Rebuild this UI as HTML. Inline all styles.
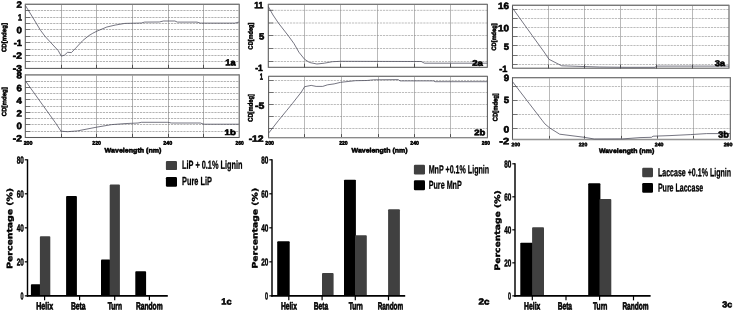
<!DOCTYPE html>
<html lang="en">
<head>
<meta charset="utf-8">
<title>CD spectra and secondary structure of LiP, MnP and Laccase with lignin</title>
<style>
html,body{margin:0;padding:0;background:#fff;}
body{width:734px;height:311px;overflow:hidden;font-family:"Liberation Sans",sans-serif;}
svg{display:block;}
text{text-rendering:geometricPrecision;}
</style>
</head>
<body>
<svg width="734" height="311" viewBox="0 0 734 311">
<rect x="0" y="0" width="734" height="311" fill="#fff"/>
<line x1="25.30" y1="10.50" x2="239.20" y2="10.50" stroke="#949494" stroke-width="0.7" stroke-dasharray="2.2 0.9"/>
<line x1="25.30" y1="10.50" x2="30.30" y2="10.50" stroke="#666" stroke-width="0.9"/>
<line x1="25.30" y1="17.50" x2="239.20" y2="17.50" stroke="#949494" stroke-width="0.7" stroke-dasharray="2.2 0.9"/>
<line x1="25.30" y1="17.50" x2="30.30" y2="17.50" stroke="#666" stroke-width="0.9"/>
<line x1="25.30" y1="23.50" x2="239.20" y2="23.50" stroke="#949494" stroke-width="0.7" stroke-dasharray="2.2 0.9"/>
<line x1="25.30" y1="23.50" x2="30.30" y2="23.50" stroke="#666" stroke-width="0.9"/>
<line x1="25.30" y1="29.50" x2="239.20" y2="29.50" stroke="#949494" stroke-width="0.7" stroke-dasharray="2.2 0.9"/>
<line x1="25.30" y1="29.50" x2="30.30" y2="29.50" stroke="#666" stroke-width="0.9"/>
<line x1="25.30" y1="36.50" x2="239.20" y2="36.50" stroke="#949494" stroke-width="0.7" stroke-dasharray="2.2 0.9"/>
<line x1="25.30" y1="36.50" x2="30.30" y2="36.50" stroke="#666" stroke-width="0.9"/>
<line x1="25.30" y1="42.50" x2="239.20" y2="42.50" stroke="#949494" stroke-width="0.7" stroke-dasharray="2.2 0.9"/>
<line x1="25.30" y1="42.50" x2="30.30" y2="42.50" stroke="#666" stroke-width="0.9"/>
<line x1="25.30" y1="49.50" x2="239.20" y2="49.50" stroke="#949494" stroke-width="0.7" stroke-dasharray="2.2 0.9"/>
<line x1="25.30" y1="49.50" x2="30.30" y2="49.50" stroke="#666" stroke-width="0.9"/>
<line x1="25.30" y1="55.50" x2="239.20" y2="55.50" stroke="#949494" stroke-width="0.7" stroke-dasharray="2.2 0.9"/>
<line x1="25.30" y1="55.50" x2="30.30" y2="55.50" stroke="#666" stroke-width="0.9"/>
<line x1="25.30" y1="61.50" x2="239.20" y2="61.50" stroke="#949494" stroke-width="0.7" stroke-dasharray="2.2 0.9"/>
<line x1="25.30" y1="61.50" x2="30.30" y2="61.50" stroke="#666" stroke-width="0.9"/>
<line x1="61.50" y1="4.30" x2="61.50" y2="68.40" stroke="#7c7c7c" stroke-width="0.6"/>
<line x1="61.50" y1="64.80" x2="61.50" y2="68.80" stroke="#444" stroke-width="0.9"/>
<line x1="96.50" y1="4.30" x2="96.50" y2="68.40" stroke="#7c7c7c" stroke-width="0.6"/>
<line x1="96.50" y1="64.80" x2="96.50" y2="68.80" stroke="#444" stroke-width="0.9"/>
<line x1="132.50" y1="4.30" x2="132.50" y2="68.40" stroke="#7c7c7c" stroke-width="0.6"/>
<line x1="132.50" y1="64.80" x2="132.50" y2="68.80" stroke="#444" stroke-width="0.9"/>
<line x1="168.50" y1="4.30" x2="168.50" y2="68.40" stroke="#7c7c7c" stroke-width="0.6"/>
<line x1="168.50" y1="64.80" x2="168.50" y2="68.80" stroke="#444" stroke-width="0.9"/>
<line x1="203.50" y1="4.30" x2="203.50" y2="68.40" stroke="#7c7c7c" stroke-width="0.6"/>
<line x1="203.50" y1="64.80" x2="203.50" y2="68.80" stroke="#444" stroke-width="0.9"/>
<rect x="25.30" y="4.30" width="213.90" height="64.10" fill="none" stroke="#585858" stroke-width="1.05"/>
<line x1="25.90" y1="4.30" x2="238.60" y2="4.30" stroke="#fff" stroke-width="1.3"/>
<line x1="25.30" y1="4.30" x2="239.20" y2="4.30" stroke="#787878" stroke-width="1.15"/>
<polyline points="25.5,5.7 33.1,18.0 40.5,30.3 45.0,36.3 50.7,42.5 58.2,50.6 61.3,56.1 64.5,55.1 67.6,52.3 71.4,52.6 75.1,48.8 82.6,40.7 88.9,35.6 92.7,33.3 97.0,31.1 106.9,27.0 115.1,25.1 124.9,23.4 141.3,23.0 144.6,22.1 159.3,22.0 163.4,21.0 174.9,21.0 177.4,22.1 197.0,22.1 200.3,23.1 234.8,23.1 238.9,22.1" fill="none" stroke="#484858" stroke-width="0.75" stroke-linejoin="round"/>
<line x1="25.30" y1="81.50" x2="239.20" y2="81.50" stroke="#949494" stroke-width="0.7" stroke-dasharray="2.2 0.9"/>
<line x1="25.30" y1="81.50" x2="30.30" y2="81.50" stroke="#666" stroke-width="0.9"/>
<line x1="25.30" y1="87.50" x2="239.20" y2="87.50" stroke="#949494" stroke-width="0.7" stroke-dasharray="2.2 0.9"/>
<line x1="25.30" y1="87.50" x2="30.30" y2="87.50" stroke="#666" stroke-width="0.9"/>
<line x1="25.30" y1="93.50" x2="239.20" y2="93.50" stroke="#949494" stroke-width="0.7" stroke-dasharray="2.2 0.9"/>
<line x1="25.30" y1="93.50" x2="30.30" y2="93.50" stroke="#666" stroke-width="0.9"/>
<line x1="25.30" y1="99.50" x2="239.20" y2="99.50" stroke="#949494" stroke-width="0.7" stroke-dasharray="2.2 0.9"/>
<line x1="25.30" y1="99.50" x2="30.30" y2="99.50" stroke="#666" stroke-width="0.9"/>
<line x1="25.30" y1="106.50" x2="239.20" y2="106.50" stroke="#949494" stroke-width="0.7" stroke-dasharray="2.2 0.9"/>
<line x1="25.30" y1="106.50" x2="30.30" y2="106.50" stroke="#666" stroke-width="0.9"/>
<line x1="25.30" y1="112.50" x2="239.20" y2="112.50" stroke="#949494" stroke-width="0.7" stroke-dasharray="2.2 0.9"/>
<line x1="25.30" y1="112.50" x2="30.30" y2="112.50" stroke="#666" stroke-width="0.9"/>
<line x1="25.30" y1="118.50" x2="239.20" y2="118.50" stroke="#949494" stroke-width="0.7" stroke-dasharray="2.2 0.9"/>
<line x1="25.30" y1="118.50" x2="30.30" y2="118.50" stroke="#666" stroke-width="0.9"/>
<line x1="25.30" y1="124.50" x2="239.20" y2="124.50" stroke="#949494" stroke-width="0.7" stroke-dasharray="2.2 0.9"/>
<line x1="25.30" y1="124.50" x2="30.30" y2="124.50" stroke="#666" stroke-width="0.9"/>
<line x1="25.30" y1="131.50" x2="239.20" y2="131.50" stroke="#949494" stroke-width="0.7" stroke-dasharray="2.2 0.9"/>
<line x1="25.30" y1="131.50" x2="30.30" y2="131.50" stroke="#666" stroke-width="0.9"/>
<line x1="61.50" y1="74.80" x2="61.50" y2="137.50" stroke="#7c7c7c" stroke-width="0.6"/>
<line x1="61.50" y1="133.90" x2="61.50" y2="137.90" stroke="#444" stroke-width="0.9"/>
<line x1="96.50" y1="74.80" x2="96.50" y2="137.50" stroke="#7c7c7c" stroke-width="0.6"/>
<line x1="96.50" y1="133.90" x2="96.50" y2="137.90" stroke="#444" stroke-width="0.9"/>
<line x1="132.50" y1="74.80" x2="132.50" y2="137.50" stroke="#7c7c7c" stroke-width="0.6"/>
<line x1="132.50" y1="133.90" x2="132.50" y2="137.90" stroke="#444" stroke-width="0.9"/>
<line x1="168.50" y1="74.80" x2="168.50" y2="137.50" stroke="#7c7c7c" stroke-width="0.6"/>
<line x1="168.50" y1="133.90" x2="168.50" y2="137.90" stroke="#444" stroke-width="0.9"/>
<line x1="203.50" y1="74.80" x2="203.50" y2="137.50" stroke="#7c7c7c" stroke-width="0.6"/>
<line x1="203.50" y1="133.90" x2="203.50" y2="137.90" stroke="#444" stroke-width="0.9"/>
<rect x="25.30" y="74.80" width="213.90" height="62.70" fill="none" stroke="#585858" stroke-width="1.05"/>
<line x1="25.90" y1="74.80" x2="238.60" y2="74.80" stroke="#fff" stroke-width="1.3"/>
<line x1="25.30" y1="74.80" x2="239.20" y2="74.80" stroke="#787878" stroke-width="1.15"/>
<polyline points="25.5,81.0 42.1,104.2 55.2,122.4 61.0,131.2 67.5,131.7 77.4,130.9 97.0,127.1 111.8,124.6 125.0,123.6 138.0,123.0 141.4,122.3 167.6,122.3 171.7,123.0 200.4,123.0 203.7,124.2 239.0,124.2" fill="none" stroke="#484858" stroke-width="0.75" stroke-linejoin="round"/>
<line x1="268.30" y1="10.35" x2="487.30" y2="10.35" stroke="#a0a0a0" stroke-width="0.7" stroke-dasharray="2.2 0.9"/>
<line x1="268.30" y1="10.35" x2="273.30" y2="10.35" stroke="#666" stroke-width="0.9"/>
<line x1="268.30" y1="23.00" x2="487.30" y2="23.00" stroke="#a0a0a0" stroke-width="0.7" stroke-dasharray="2.2 0.9"/>
<line x1="268.30" y1="23.00" x2="273.30" y2="23.00" stroke="#666" stroke-width="0.9"/>
<line x1="268.30" y1="35.50" x2="487.30" y2="35.50" stroke="#a0a0a0" stroke-width="0.7" stroke-dasharray="2.2 0.9"/>
<line x1="268.30" y1="35.50" x2="273.30" y2="35.50" stroke="#666" stroke-width="0.9"/>
<line x1="268.30" y1="48.50" x2="487.30" y2="48.50" stroke="#a0a0a0" stroke-width="0.7" stroke-dasharray="2.2 0.9"/>
<line x1="268.30" y1="48.50" x2="273.30" y2="48.50" stroke="#666" stroke-width="0.9"/>
<line x1="268.30" y1="61.50" x2="487.30" y2="61.50" stroke="#a0a0a0" stroke-width="0.7" stroke-dasharray="2.2 0.9"/>
<line x1="268.30" y1="61.50" x2="273.30" y2="61.50" stroke="#666" stroke-width="0.9"/>
<line x1="304.50" y1="4.40" x2="304.50" y2="67.30" stroke="#8a8a8a" stroke-width="0.6"/>
<line x1="304.50" y1="63.70" x2="304.50" y2="67.70" stroke="#444" stroke-width="0.9"/>
<line x1="340.50" y1="4.40" x2="340.50" y2="67.30" stroke="#8a8a8a" stroke-width="0.6"/>
<line x1="340.50" y1="63.70" x2="340.50" y2="67.70" stroke="#444" stroke-width="0.9"/>
<line x1="377.50" y1="4.40" x2="377.50" y2="67.30" stroke="#8a8a8a" stroke-width="0.6"/>
<line x1="377.50" y1="63.70" x2="377.50" y2="67.70" stroke="#444" stroke-width="0.9"/>
<line x1="414.50" y1="4.40" x2="414.50" y2="67.30" stroke="#8a8a8a" stroke-width="0.6"/>
<line x1="414.50" y1="63.70" x2="414.50" y2="67.70" stroke="#444" stroke-width="0.9"/>
<line x1="450.50" y1="4.40" x2="450.50" y2="67.30" stroke="#8a8a8a" stroke-width="0.6"/>
<line x1="450.50" y1="63.70" x2="450.50" y2="67.70" stroke="#444" stroke-width="0.9"/>
<rect x="268.30" y="4.40" width="219.00" height="62.90" fill="none" stroke="#585858" stroke-width="1.05"/>
<line x1="268.90" y1="4.40" x2="486.70" y2="4.40" stroke="#fff" stroke-width="1.3"/>
<line x1="268.30" y1="4.40" x2="487.30" y2="4.40" stroke="#787878" stroke-width="1.15"/>
<polyline points="268.4,6.8 273.0,15.0 278.4,23.0 288.2,35.6 294.0,43.6 298.9,52.2 304.6,59.3 309.5,62.5 316.9,64.0 324.3,63.2 332.5,61.7 340.7,61.3 421.2,61.5 424.5,63.2 487.3,63.2" fill="none" stroke="#484858" stroke-width="0.75" stroke-linejoin="round"/>
<line x1="268.60" y1="80.50" x2="487.40" y2="80.50" stroke="#a0a0a0" stroke-width="0.7" stroke-dasharray="2.2 0.9"/>
<line x1="268.60" y1="80.50" x2="273.60" y2="80.50" stroke="#666" stroke-width="0.9"/>
<line x1="268.60" y1="92.50" x2="487.40" y2="92.50" stroke="#a0a0a0" stroke-width="0.7" stroke-dasharray="2.2 0.9"/>
<line x1="268.60" y1="92.50" x2="273.60" y2="92.50" stroke="#666" stroke-width="0.9"/>
<line x1="268.60" y1="104.50" x2="487.40" y2="104.50" stroke="#a0a0a0" stroke-width="0.7" stroke-dasharray="2.2 0.9"/>
<line x1="268.60" y1="104.50" x2="273.60" y2="104.50" stroke="#666" stroke-width="0.9"/>
<line x1="268.60" y1="116.50" x2="487.40" y2="116.50" stroke="#a0a0a0" stroke-width="0.7" stroke-dasharray="2.2 0.9"/>
<line x1="268.60" y1="116.50" x2="273.60" y2="116.50" stroke="#666" stroke-width="0.9"/>
<line x1="268.60" y1="128.50" x2="487.40" y2="128.50" stroke="#a0a0a0" stroke-width="0.7" stroke-dasharray="2.2 0.9"/>
<line x1="268.60" y1="128.50" x2="273.60" y2="128.50" stroke="#666" stroke-width="0.9"/>
<line x1="304.50" y1="76.40" x2="304.50" y2="137.70" stroke="#8a8a8a" stroke-width="0.6"/>
<line x1="304.50" y1="134.10" x2="304.50" y2="138.10" stroke="#444" stroke-width="0.9"/>
<line x1="341.50" y1="76.40" x2="341.50" y2="137.70" stroke="#8a8a8a" stroke-width="0.6"/>
<line x1="341.50" y1="134.10" x2="341.50" y2="138.10" stroke="#444" stroke-width="0.9"/>
<line x1="378.50" y1="76.40" x2="378.50" y2="137.70" stroke="#8a8a8a" stroke-width="0.6"/>
<line x1="378.50" y1="134.10" x2="378.50" y2="138.10" stroke="#444" stroke-width="0.9"/>
<line x1="414.50" y1="76.40" x2="414.50" y2="137.70" stroke="#8a8a8a" stroke-width="0.6"/>
<line x1="414.50" y1="134.10" x2="414.50" y2="138.10" stroke="#444" stroke-width="0.9"/>
<line x1="450.50" y1="76.40" x2="450.50" y2="137.70" stroke="#8a8a8a" stroke-width="0.6"/>
<line x1="450.50" y1="134.10" x2="450.50" y2="138.10" stroke="#444" stroke-width="0.9"/>
<rect x="268.60" y="76.40" width="218.80" height="61.30" fill="none" stroke="#585858" stroke-width="1.05"/>
<line x1="269.20" y1="76.40" x2="486.80" y2="76.40" stroke="#fff" stroke-width="1.3"/>
<line x1="268.60" y1="76.40" x2="487.40" y2="76.40" stroke="#787878" stroke-width="1.15"/>
<line x1="269.20" y1="137.70" x2="486.80" y2="137.70" stroke="#fff" stroke-width="1.4"/>
<line x1="268.60" y1="137.70" x2="487.40" y2="137.70" stroke="#8a8a8a" stroke-width="1.3"/>
<polyline points="268.8,132.9 278.4,120.6 286.6,110.6 292.3,103.6 301.3,92.1 304.6,86.7 311.2,85.4 316.1,86.4 322.7,86.4 327.6,84.8 334.1,83.9 340.7,82.3 355.4,80.7 366.9,80.5 373.5,79.8 398.2,79.6 400.0,80.9 433.5,80.9 435.0,81.7 487.3,81.7" fill="none" stroke="#484858" stroke-width="0.75" stroke-linejoin="round"/>
<line x1="512.50" y1="9.50" x2="729.00" y2="9.50" stroke="#a0a0a0" stroke-width="0.7" stroke-dasharray="2.2 0.9"/>
<line x1="512.50" y1="9.50" x2="517.50" y2="9.50" stroke="#666" stroke-width="0.9"/>
<line x1="512.50" y1="18.50" x2="729.00" y2="18.50" stroke="#a0a0a0" stroke-width="0.7" stroke-dasharray="2.2 0.9"/>
<line x1="512.50" y1="18.50" x2="517.50" y2="18.50" stroke="#666" stroke-width="0.9"/>
<line x1="512.50" y1="27.50" x2="729.00" y2="27.50" stroke="#a0a0a0" stroke-width="0.7" stroke-dasharray="2.2 0.9"/>
<line x1="512.50" y1="27.50" x2="517.50" y2="27.50" stroke="#666" stroke-width="0.9"/>
<line x1="512.50" y1="36.50" x2="729.00" y2="36.50" stroke="#a0a0a0" stroke-width="0.7" stroke-dasharray="2.2 0.9"/>
<line x1="512.50" y1="36.50" x2="517.50" y2="36.50" stroke="#666" stroke-width="0.9"/>
<line x1="512.50" y1="45.50" x2="729.00" y2="45.50" stroke="#a0a0a0" stroke-width="0.7" stroke-dasharray="2.2 0.9"/>
<line x1="512.50" y1="45.50" x2="517.50" y2="45.50" stroke="#666" stroke-width="0.9"/>
<line x1="512.50" y1="55.50" x2="729.00" y2="55.50" stroke="#a0a0a0" stroke-width="0.7" stroke-dasharray="2.2 0.9"/>
<line x1="512.50" y1="55.50" x2="517.50" y2="55.50" stroke="#666" stroke-width="0.9"/>
<line x1="512.50" y1="64.50" x2="729.00" y2="64.50" stroke="#a0a0a0" stroke-width="0.7" stroke-dasharray="2.2 0.9"/>
<line x1="512.50" y1="64.50" x2="517.50" y2="64.50" stroke="#666" stroke-width="0.9"/>
<line x1="548.50" y1="5.30" x2="548.50" y2="68.20" stroke="#8a8a8a" stroke-width="0.6"/>
<line x1="548.50" y1="64.60" x2="548.50" y2="68.60" stroke="#444" stroke-width="0.9"/>
<line x1="584.50" y1="5.30" x2="584.50" y2="68.20" stroke="#8a8a8a" stroke-width="0.6"/>
<line x1="584.50" y1="64.60" x2="584.50" y2="68.60" stroke="#444" stroke-width="0.9"/>
<line x1="620.50" y1="5.30" x2="620.50" y2="68.20" stroke="#8a8a8a" stroke-width="0.6"/>
<line x1="620.50" y1="64.60" x2="620.50" y2="68.60" stroke="#444" stroke-width="0.9"/>
<line x1="656.50" y1="5.30" x2="656.50" y2="68.20" stroke="#8a8a8a" stroke-width="0.6"/>
<line x1="656.50" y1="64.60" x2="656.50" y2="68.60" stroke="#444" stroke-width="0.9"/>
<line x1="692.50" y1="5.30" x2="692.50" y2="68.20" stroke="#8a8a8a" stroke-width="0.6"/>
<line x1="692.50" y1="64.60" x2="692.50" y2="68.60" stroke="#444" stroke-width="0.9"/>
<rect x="512.50" y="5.30" width="216.50" height="62.90" fill="none" stroke="#585858" stroke-width="1.05"/>
<line x1="513.10" y1="5.30" x2="728.40" y2="5.30" stroke="#fff" stroke-width="1.3"/>
<line x1="512.50" y1="5.30" x2="729.00" y2="5.30" stroke="#787878" stroke-width="1.15"/>
<polyline points="512.6,8.2 532.2,35.5 544.1,52.0 549.0,59.3 561.7,65.8 583.0,66.5 599.4,67.0 626.0,67.3 655.0,67.3 656.5,66.1 729.0,66.1" fill="none" stroke="#484858" stroke-width="0.75" stroke-linejoin="round"/>
<line x1="512.50" y1="86.50" x2="730.30" y2="86.50" stroke="#a0a0a0" stroke-width="0.7" stroke-dasharray="2.2 0.9"/>
<line x1="512.50" y1="86.50" x2="517.50" y2="86.50" stroke="#666" stroke-width="0.9"/>
<line x1="512.50" y1="100.50" x2="730.30" y2="100.50" stroke="#a0a0a0" stroke-width="0.7" stroke-dasharray="2.2 0.9"/>
<line x1="512.50" y1="100.50" x2="517.50" y2="100.50" stroke="#666" stroke-width="0.9"/>
<line x1="512.50" y1="114.50" x2="730.30" y2="114.50" stroke="#a0a0a0" stroke-width="0.7" stroke-dasharray="2.2 0.9"/>
<line x1="512.50" y1="114.50" x2="517.50" y2="114.50" stroke="#666" stroke-width="0.9"/>
<line x1="512.50" y1="128.50" x2="730.30" y2="128.50" stroke="#a0a0a0" stroke-width="0.7" stroke-dasharray="2.2 0.9"/>
<line x1="512.50" y1="128.50" x2="517.50" y2="128.50" stroke="#666" stroke-width="0.9"/>
<line x1="549.50" y1="77.60" x2="549.50" y2="139.50" stroke="#8a8a8a" stroke-width="0.6"/>
<line x1="549.50" y1="135.90" x2="549.50" y2="139.90" stroke="#444" stroke-width="0.9"/>
<line x1="584.50" y1="77.60" x2="584.50" y2="139.50" stroke="#8a8a8a" stroke-width="0.6"/>
<line x1="584.50" y1="135.90" x2="584.50" y2="139.90" stroke="#444" stroke-width="0.9"/>
<line x1="621.50" y1="77.60" x2="621.50" y2="139.50" stroke="#8a8a8a" stroke-width="0.6"/>
<line x1="621.50" y1="135.90" x2="621.50" y2="139.90" stroke="#444" stroke-width="0.9"/>
<line x1="657.50" y1="77.60" x2="657.50" y2="139.50" stroke="#8a8a8a" stroke-width="0.6"/>
<line x1="657.50" y1="135.90" x2="657.50" y2="139.90" stroke="#444" stroke-width="0.9"/>
<line x1="693.50" y1="77.60" x2="693.50" y2="139.50" stroke="#8a8a8a" stroke-width="0.6"/>
<line x1="693.50" y1="135.90" x2="693.50" y2="139.90" stroke="#444" stroke-width="0.9"/>
<rect x="512.50" y="77.60" width="217.80" height="61.90" fill="none" stroke="#585858" stroke-width="1.05"/>
<line x1="513.10" y1="77.60" x2="729.70" y2="77.60" stroke="#fff" stroke-width="1.3"/>
<line x1="512.50" y1="77.60" x2="730.30" y2="77.60" stroke="#787878" stroke-width="1.15"/>
<line x1="513.10" y1="139.50" x2="729.70" y2="139.50" stroke="#fff" stroke-width="1.4"/>
<line x1="512.50" y1="139.50" x2="730.30" y2="139.50" stroke="#949494" stroke-width="1.3"/>
<polyline points="512.6,81.8 529.3,103.6 542.5,120.8 544.9,123.9 549.8,128.0 559.7,134.2 584.3,137.3 594.2,139.0 622.8,138.9 640.0,137.6 651.5,137.3 653.0,136.2 670.0,135.6 690.3,134.6 706.6,133.6 730.0,133.6" fill="none" stroke="#484858" stroke-width="0.75" stroke-linejoin="round"/>
<text transform="translate(16.52 7.75) rotate(0.06) scale(1.0530 1)" font-family="'Liberation Sans', sans-serif" font-weight="bold" font-size="9.17" fill="#000" stroke="#000" stroke-width="0.6" stroke-linejoin="round">2</text>
<text transform="translate(18.03 20.50) rotate(0.06) scale(0.7722 1)" font-family="'Liberation Sans', sans-serif" font-weight="bold" font-size="9.17" fill="#000" stroke="#000" stroke-width="0.6" stroke-linejoin="round">1</text>
<text transform="translate(16.52 33.25) rotate(0.06) scale(1.0530 1)" font-family="'Liberation Sans', sans-serif" font-weight="bold" font-size="9.17" fill="#000" stroke="#000" stroke-width="0.6" stroke-linejoin="round">0</text>
<text transform="translate(13.70 46.00) rotate(0.06) scale(1.0056 1)" font-family="'Liberation Sans', sans-serif" font-weight="bold" font-size="9.17" fill="#000" stroke="#000" stroke-width="0.6" stroke-linejoin="round">-1</text>
<text transform="translate(12.83 58.75) rotate(0.06) scale(1.1084 1)" font-family="'Liberation Sans', sans-serif" font-weight="bold" font-size="9.17" fill="#000" stroke="#000" stroke-width="0.6" stroke-linejoin="round">-2</text>
<text transform="translate(12.83 71.50) rotate(0.06) scale(1.1084 1)" font-family="'Liberation Sans', sans-serif" font-weight="bold" font-size="9.17" fill="#000" stroke="#000" stroke-width="0.6" stroke-linejoin="round">-3</text>
<text transform="translate(16.52 78.60) rotate(0.06) scale(1.0530 1)" font-family="'Liberation Sans', sans-serif" font-weight="bold" font-size="9.17" fill="#000" stroke="#000" stroke-width="0.6" stroke-linejoin="round">8</text>
<text transform="translate(16.52 91.20) rotate(0.06) scale(1.0530 1)" font-family="'Liberation Sans', sans-serif" font-weight="bold" font-size="9.17" fill="#000" stroke="#000" stroke-width="0.6" stroke-linejoin="round">6</text>
<text transform="translate(16.52 103.80) rotate(0.06) scale(1.0530 1)" font-family="'Liberation Sans', sans-serif" font-weight="bold" font-size="9.17" fill="#000" stroke="#000" stroke-width="0.6" stroke-linejoin="round">4</text>
<text transform="translate(16.52 116.40) rotate(0.06) scale(1.0530 1)" font-family="'Liberation Sans', sans-serif" font-weight="bold" font-size="9.17" fill="#000" stroke="#000" stroke-width="0.6" stroke-linejoin="round">2</text>
<text transform="translate(16.52 129.00) rotate(0.06) scale(1.0530 1)" font-family="'Liberation Sans', sans-serif" font-weight="bold" font-size="9.17" fill="#000" stroke="#000" stroke-width="0.6" stroke-linejoin="round">0</text>
<text transform="translate(12.83 141.60) rotate(0.06) scale(1.1084 1)" font-family="'Liberation Sans', sans-serif" font-weight="bold" font-size="9.17" fill="#000" stroke="#000" stroke-width="0.6" stroke-linejoin="round">-2</text>
<text transform="translate(254.28 8.20) rotate(0.06) scale(0.9328 1)" font-family="'Liberation Sans', sans-serif" font-weight="bold" font-size="9.17" fill="#000" stroke="#000" stroke-width="0.6" stroke-linejoin="round">11</text>
<text transform="translate(258.91 39.60) rotate(0.06) scale(1.0355 1)" font-family="'Liberation Sans', sans-serif" font-weight="bold" font-size="9.17" fill="#000" stroke="#000" stroke-width="0.6" stroke-linejoin="round">5</text>
<text transform="translate(255.28 71.00) rotate(0.06) scale(0.9256 1)" font-family="'Liberation Sans', sans-serif" font-weight="bold" font-size="9.17" fill="#000" stroke="#000" stroke-width="0.6" stroke-linejoin="round">-1</text>
<text transform="translate(259.69 79.80) rotate(0.06) scale(0.6318 1)" font-family="'Liberation Sans', sans-serif" font-weight="bold" font-size="9.17" fill="#000" stroke="#000" stroke-width="0.6" stroke-linejoin="round">1</text>
<text transform="translate(255.04 108.70) rotate(0.06) scale(1.1427 1)" font-family="'Liberation Sans', sans-serif" font-weight="bold" font-size="9.17" fill="#000" stroke="#000" stroke-width="0.6" stroke-linejoin="round">-5</text>
<text transform="translate(248.64 141.80) rotate(0.06) scale(1.1336 1)" font-family="'Liberation Sans', sans-serif" font-weight="bold" font-size="9.17" fill="#000" stroke="#000" stroke-width="0.6" stroke-linejoin="round">-12</text>
<text transform="translate(498.02 8.95) rotate(0.06) scale(1.0745 1)" font-family="'Liberation Sans', sans-serif" font-weight="bold" font-size="9.17" fill="#000" stroke="#000" stroke-width="0.6" stroke-linejoin="round">16</text>
<text transform="translate(498.02 31.20) rotate(0.06) scale(1.0745 1)" font-family="'Liberation Sans', sans-serif" font-weight="bold" font-size="9.17" fill="#000" stroke="#000" stroke-width="0.6" stroke-linejoin="round">10</text>
<text transform="translate(503.71 49.70) rotate(0.06) scale(1.0355 1)" font-family="'Liberation Sans', sans-serif" font-weight="bold" font-size="9.17" fill="#000" stroke="#000" stroke-width="0.6" stroke-linejoin="round">5</text>
<text transform="translate(499.20 72.00) rotate(0.06) scale(0.9941 1)" font-family="'Liberation Sans', sans-serif" font-weight="bold" font-size="9.17" fill="#000" stroke="#000" stroke-width="0.6" stroke-linejoin="round">-1</text>
<text transform="translate(503.82 81.10) rotate(0.06) scale(1.0530 1)" font-family="'Liberation Sans', sans-serif" font-weight="bold" font-size="9.17" fill="#000" stroke="#000" stroke-width="0.6" stroke-linejoin="round">9</text>
<text transform="translate(503.82 102.90) rotate(0.06) scale(1.0530 1)" font-family="'Liberation Sans', sans-serif" font-weight="bold" font-size="9.17" fill="#000" stroke="#000" stroke-width="0.6" stroke-linejoin="round">5</text>
<text transform="translate(503.54 132.60) rotate(0.06) scale(1.1232 1)" font-family="'Liberation Sans', sans-serif" font-weight="bold" font-size="9.17" fill="#000" stroke="#000" stroke-width="0.6" stroke-linejoin="round">0</text>
<text transform="translate(499.36 144.20) rotate(0.06) scale(1.2113 1)" font-family="'Liberation Sans', sans-serif" font-weight="bold" font-size="9.17" fill="#000" stroke="#000" stroke-width="0.6" stroke-linejoin="round">-2</text>
<text transform="translate(6.25 52.30) rotate(-89.94) translate(0.24 0) scale(0.9426 1)" font-family="'Liberation Sans', sans-serif" font-weight="bold" font-size="6.45" fill="#000" stroke="#000" stroke-width="0.5" stroke-linejoin="round">CD[mdeg]</text>
<text transform="translate(6.15 116.40) rotate(-89.94) translate(0.24 0) scale(0.9604 1)" font-family="'Liberation Sans', sans-serif" font-weight="bold" font-size="6.30" fill="#000" stroke="#000" stroke-width="0.5" stroke-linejoin="round">CD[mdeg]</text>
<text transform="translate(252.65 49.60) rotate(-89.94) translate(0.21 0) scale(0.8474 1)" font-family="'Liberation Sans', sans-serif" font-weight="bold" font-size="6.59" fill="#000" stroke="#000" stroke-width="0.5" stroke-linejoin="round">CD[mdeg]</text>
<text transform="translate(252.85 122.00) rotate(-89.94) translate(0.21 0) scale(0.8456 1)" font-family="'Liberation Sans', sans-serif" font-weight="bold" font-size="6.88" fill="#000" stroke="#000" stroke-width="0.5" stroke-linejoin="round">CD[mdeg]</text>
<text transform="translate(496.05 50.80) rotate(-89.94) translate(0.23 0) scale(0.9048 1)" font-family="'Liberation Sans', sans-serif" font-weight="bold" font-size="6.30" fill="#000" stroke="#000" stroke-width="0.5" stroke-linejoin="round">CD[mdeg]</text>
<text transform="translate(497.45 121.40) rotate(-89.94) translate(0.22 0) scale(0.8694 1)" font-family="'Liberation Sans', sans-serif" font-weight="bold" font-size="6.73" fill="#000" stroke="#000" stroke-width="0.5" stroke-linejoin="round">CD[mdeg]</text>
<text transform="translate(23.65 144.65) rotate(0.06) scale(1.0062 1)" font-family="'Liberation Sans', sans-serif" font-weight="bold" font-size="5.30" fill="#000" stroke="#000" stroke-width="0.5" stroke-linejoin="round">200</text>
<text transform="translate(92.25 144.65) rotate(0.06) scale(0.9848 1)" font-family="'Liberation Sans', sans-serif" font-weight="bold" font-size="5.30" fill="#000" stroke="#000" stroke-width="0.5" stroke-linejoin="round">220</text>
<text transform="translate(163.25 144.65) rotate(0.06) scale(1.0169 1)" font-family="'Liberation Sans', sans-serif" font-weight="bold" font-size="5.30" fill="#000" stroke="#000" stroke-width="0.5" stroke-linejoin="round">240</text>
<text transform="translate(235.53 144.65) rotate(0.06) scale(0.9206 1)" font-family="'Liberation Sans', sans-serif" font-weight="bold" font-size="5.30" fill="#000" stroke="#000" stroke-width="0.5" stroke-linejoin="round">260</text>
<text transform="translate(265.25 144.75) rotate(0.06) scale(0.9848 1)" font-family="'Liberation Sans', sans-serif" font-weight="bold" font-size="5.30" fill="#000" stroke="#000" stroke-width="0.5" stroke-linejoin="round">200</text>
<text transform="translate(339.14 144.75) rotate(0.06) scale(0.9634 1)" font-family="'Liberation Sans', sans-serif" font-weight="bold" font-size="5.30" fill="#000" stroke="#000" stroke-width="0.5" stroke-linejoin="round">220</text>
<text transform="translate(410.25 144.75) rotate(0.06) scale(0.9848 1)" font-family="'Liberation Sans', sans-serif" font-weight="bold" font-size="5.30" fill="#000" stroke="#000" stroke-width="0.5" stroke-linejoin="round">240</text>
<text transform="translate(481.73 144.75) rotate(0.06) scale(0.9206 1)" font-family="'Liberation Sans', sans-serif" font-weight="bold" font-size="5.30" fill="#000" stroke="#000" stroke-width="0.5" stroke-linejoin="round">260</text>
<text transform="translate(511.55 146.35) rotate(0.06) scale(0.9887 1)" font-family="'Liberation Sans', sans-serif" font-weight="bold" font-size="5.16" fill="#000" stroke="#000" stroke-width="0.5" stroke-linejoin="round">200</text>
<text transform="translate(578.75 146.35) rotate(0.06) scale(0.9887 1)" font-family="'Liberation Sans', sans-serif" font-weight="bold" font-size="5.16" fill="#000" stroke="#000" stroke-width="0.5" stroke-linejoin="round">220</text>
<text transform="translate(654.75 146.35) rotate(0.06) scale(1.0107 1)" font-family="'Liberation Sans', sans-serif" font-weight="bold" font-size="5.16" fill="#000" stroke="#000" stroke-width="0.5" stroke-linejoin="round">240</text>
<text transform="translate(723.66 146.35) rotate(0.06) scale(1.0326 1)" font-family="'Liberation Sans', sans-serif" font-weight="bold" font-size="5.16" fill="#000" stroke="#000" stroke-width="0.5" stroke-linejoin="round">260</text>
<text transform="translate(104.60 152.42) rotate(0.06) scale(1.0731 1)" font-family="'Liberation Sans', sans-serif" font-weight="bold" font-size="6.61" fill="#000" stroke="#000" stroke-width="0.55" stroke-linejoin="round">Wavelength (nm)</text>
<text transform="translate(351.59 152.53) rotate(0.06) scale(1.0544 1)" font-family="'Liberation Sans', sans-serif" font-weight="bold" font-size="6.61" fill="#000" stroke="#000" stroke-width="0.55" stroke-linejoin="round">Wavelength (nm)</text>
<text transform="translate(598.99 153.03) rotate(0.06) scale(1.0414 1)" font-family="'Liberation Sans', sans-serif" font-weight="bold" font-size="6.61" fill="#000" stroke="#000" stroke-width="0.55" stroke-linejoin="round">Wavelength (nm)</text>
<text transform="translate(225.32 65.60) rotate(0.06) scale(1.0550 1)" font-family="'Liberation Sans', sans-serif" font-weight="bold" font-size="8.87" fill="#000" stroke="#000" stroke-width="0.6" stroke-linejoin="round">1a</text>
<text transform="translate(224.57 135.00) rotate(0.06) scale(1.2193 1)" font-family="'Liberation Sans', sans-serif" font-weight="bold" font-size="7.85" fill="#000" stroke="#000" stroke-width="0.6" stroke-linejoin="round">1b</text>
<text transform="translate(472.26 65.80) rotate(0.06) scale(1.1903 1)" font-family="'Liberation Sans', sans-serif" font-weight="bold" font-size="8.02" fill="#000" stroke="#000" stroke-width="0.6" stroke-linejoin="round">2a</text>
<text transform="translate(474.15 135.30) rotate(0.06) scale(1.1649 1)" font-family="'Liberation Sans', sans-serif" font-weight="bold" font-size="8.17" fill="#000" stroke="#000" stroke-width="0.6" stroke-linejoin="round">2b</text>
<text transform="translate(714.64 66.10) rotate(0.06) scale(1.1315 1)" font-family="'Liberation Sans', sans-serif" font-weight="bold" font-size="8.31" fill="#000" stroke="#000" stroke-width="0.6" stroke-linejoin="round">3a</text>
<text transform="translate(718.21 137.60) rotate(0.06) scale(1.0464 1)" font-family="'Liberation Sans', sans-serif" font-weight="bold" font-size="8.74" fill="#000" stroke="#000" stroke-width="0.6" stroke-linejoin="round">3b</text>
<text transform="translate(221.31 304.40) rotate(0.06) scale(1.0421 1)" font-family="'Liberation Sans', sans-serif" font-weight="bold" font-size="8.87" fill="#000" stroke="#000" stroke-width="0.6" stroke-linejoin="round">1c</text>
<text transform="translate(478.44 304.40) rotate(0.06) scale(1.1242 1)" font-family="'Liberation Sans', sans-serif" font-weight="bold" font-size="8.74" fill="#000" stroke="#000" stroke-width="0.6" stroke-linejoin="round">2c</text>
<text transform="translate(722.32 307.30) rotate(0.06) scale(1.0601 1)" font-family="'Liberation Sans', sans-serif" font-weight="bold" font-size="8.45" fill="#000" stroke="#000" stroke-width="0.6" stroke-linejoin="round">3c</text>
<path d="M30.90 295.85V285.10Q30.90 284.20 31.80 284.20H39.60Q40.50 284.20 40.50 285.10V295.85Z" fill="#000"/>
<path d="M39.90 295.85V237.10Q39.90 236.20 40.80 236.20H49.40Q50.30 236.20 50.30 237.10V295.85Z" fill="#404040"/>
<path d="M66.10 295.85V197.00Q66.10 196.10 67.00 196.10H76.00Q76.90 196.10 76.90 197.00V295.85Z" fill="#000"/>
<path d="M101.00 295.85V260.50Q101.00 259.60 101.90 259.60H109.30Q110.20 259.60 110.20 260.50V295.85Z" fill="#000"/>
<path d="M109.70 295.85V185.40Q109.70 184.50 110.60 184.50H119.00Q119.90 184.50 119.90 185.40V295.85Z" fill="#404040"/>
<path d="M135.30 295.85V272.10Q135.30 271.20 136.20 271.20H145.20Q146.10 271.20 146.10 272.10V295.85Z" fill="#000"/>
<line x1="27.50" y1="159.30" x2="27.50" y2="296.75" stroke="#000" stroke-width="1.45"/>
<line x1="26.80" y1="295.85" x2="167.80" y2="295.85" stroke="#000" stroke-width="1.8"/>
<line x1="24.80" y1="295.85" x2="27.50" y2="295.85" stroke="#000" stroke-width="1.2"/>
<text transform="translate(20.43 299.45) rotate(0.06) scale(0.5361 1)" font-family="'Liberation Sans', sans-serif" font-weight="bold" font-size="10.17" fill="#000" stroke="#000" stroke-width="0.5" stroke-linejoin="round">0</text>
<line x1="24.80" y1="261.84" x2="27.50" y2="261.84" stroke="#000" stroke-width="1.2"/>
<text transform="translate(16.76 265.44) rotate(0.06) scale(0.6265 1)" font-family="'Liberation Sans', sans-serif" font-weight="bold" font-size="10.17" fill="#000" stroke="#000" stroke-width="0.5" stroke-linejoin="round">20</text>
<line x1="24.80" y1="227.83" x2="27.50" y2="227.83" stroke="#000" stroke-width="1.2"/>
<text transform="translate(16.76 231.43) rotate(0.06) scale(0.6265 1)" font-family="'Liberation Sans', sans-serif" font-weight="bold" font-size="10.17" fill="#000" stroke="#000" stroke-width="0.5" stroke-linejoin="round">40</text>
<line x1="24.80" y1="193.81" x2="27.50" y2="193.81" stroke="#000" stroke-width="1.2"/>
<text transform="translate(16.76 197.41) rotate(0.06) scale(0.6265 1)" font-family="'Liberation Sans', sans-serif" font-weight="bold" font-size="10.17" fill="#000" stroke="#000" stroke-width="0.5" stroke-linejoin="round">60</text>
<line x1="24.80" y1="159.80" x2="27.50" y2="159.80" stroke="#000" stroke-width="1.2"/>
<text transform="translate(16.76 163.40) rotate(0.06) scale(0.6265 1)" font-family="'Liberation Sans', sans-serif" font-weight="bold" font-size="10.17" fill="#000" stroke="#000" stroke-width="0.5" stroke-linejoin="round">80</text>
<line x1="44.60" y1="295.85" x2="44.60" y2="300.35" stroke="#000" stroke-width="1.2"/>
<line x1="79.60" y1="295.85" x2="79.60" y2="300.35" stroke="#000" stroke-width="1.2"/>
<line x1="114.70" y1="295.85" x2="114.70" y2="300.35" stroke="#000" stroke-width="1.2"/>
<line x1="149.40" y1="295.85" x2="149.40" y2="300.35" stroke="#000" stroke-width="1.2"/>
<text transform="translate(36.22 309.48) rotate(0.06) scale(0.6827 1)" font-family="'Liberation Sans', sans-serif" font-weight="bold" font-size="10.39" fill="#000" stroke="#000" stroke-width="0.65" stroke-linejoin="round">Helix</text>
<text transform="translate(70.91 309.48) rotate(0.06) scale(0.6540 1)" font-family="'Liberation Sans', sans-serif" font-weight="bold" font-size="10.39" fill="#000" stroke="#000" stroke-width="0.65" stroke-linejoin="round">Beta</text>
<text transform="translate(107.71 309.48) rotate(0.06) scale(0.6402 1)" font-family="'Liberation Sans', sans-serif" font-weight="bold" font-size="10.39" fill="#000" stroke="#000" stroke-width="0.65" stroke-linejoin="round">Turn</text>
<text transform="translate(135.91 309.48) rotate(0.06) scale(0.6419 1)" font-family="'Liberation Sans', sans-serif" font-weight="bold" font-size="10.39" fill="#000" stroke="#000" stroke-width="0.65" stroke-linejoin="round">Random</text>
<text transform="translate(12.20 269.00) rotate(-89.94) translate(0.25 0) scale(1.2344 1)" font-family="'DejaVu Sans', sans-serif" font-weight="bold" font-size="7.54" fill="#000" stroke="#000" stroke-width="0.4" stroke-linejoin="round">Percentage (%)</text>
<rect x="165.90" y="160.90" width="11.10" height="9.20" rx="1.2" fill="#404040"/>
<rect x="165.90" y="177.00" width="11.10" height="9.70" rx="1.2" fill="#000"/>
<text transform="translate(182.09 168.75) rotate(0.06) scale(0.6310 1)" font-family="'Liberation Sans', sans-serif" font-weight="bold" font-size="11.63" fill="#000" stroke="#000" stroke-width="0.3" stroke-linejoin="round">LiP + 0.1% Lignin</text>
<text transform="translate(182.09 185.05) rotate(0.06) scale(0.6319 1)" font-family="'Liberation Sans', sans-serif" font-weight="bold" font-size="11.63" fill="#000" stroke="#000" stroke-width="0.3" stroke-linejoin="round">Pure LiP</text>
<path d="M277.20 295.85V242.20Q277.20 241.30 278.10 241.30H288.80Q289.70 241.30 289.70 242.20V295.85Z" fill="#000"/>
<path d="M322.00 295.85V273.90Q322.00 273.00 322.90 273.00H332.70Q333.60 273.00 333.60 273.90V295.85Z" fill="#404040"/>
<path d="M344.00 295.85V180.60Q344.00 179.70 344.90 179.70H355.00Q355.90 179.70 355.90 180.60V295.85Z" fill="#000"/>
<path d="M355.00 295.85V236.10Q355.00 235.20 355.90 235.20H365.90Q366.80 235.20 366.80 236.10V295.85Z" fill="#404040"/>
<path d="M388.10 295.85V210.20Q388.10 209.30 389.00 209.30H399.00Q399.90 209.30 399.90 210.20V295.85Z" fill="#404040"/>
<line x1="272.00" y1="159.30" x2="272.00" y2="296.75" stroke="#000" stroke-width="1.45"/>
<line x1="271.30" y1="295.85" x2="405.20" y2="295.85" stroke="#000" stroke-width="1.8"/>
<line x1="269.30" y1="295.85" x2="272.00" y2="295.85" stroke="#000" stroke-width="1.2"/>
<text transform="translate(264.93 299.45) rotate(0.06) scale(0.5361 1)" font-family="'Liberation Sans', sans-serif" font-weight="bold" font-size="10.17" fill="#000" stroke="#000" stroke-width="0.5" stroke-linejoin="round">0</text>
<line x1="269.30" y1="261.84" x2="272.00" y2="261.84" stroke="#000" stroke-width="1.2"/>
<text transform="translate(261.26 265.44) rotate(0.06) scale(0.6265 1)" font-family="'Liberation Sans', sans-serif" font-weight="bold" font-size="10.17" fill="#000" stroke="#000" stroke-width="0.5" stroke-linejoin="round">20</text>
<line x1="269.30" y1="227.83" x2="272.00" y2="227.83" stroke="#000" stroke-width="1.2"/>
<text transform="translate(261.26 231.43) rotate(0.06) scale(0.6265 1)" font-family="'Liberation Sans', sans-serif" font-weight="bold" font-size="10.17" fill="#000" stroke="#000" stroke-width="0.5" stroke-linejoin="round">40</text>
<line x1="269.30" y1="193.81" x2="272.00" y2="193.81" stroke="#000" stroke-width="1.2"/>
<text transform="translate(261.26 197.41) rotate(0.06) scale(0.6265 1)" font-family="'Liberation Sans', sans-serif" font-weight="bold" font-size="10.17" fill="#000" stroke="#000" stroke-width="0.5" stroke-linejoin="round">60</text>
<line x1="269.30" y1="159.80" x2="272.00" y2="159.80" stroke="#000" stroke-width="1.2"/>
<text transform="translate(261.26 163.40) rotate(0.06) scale(0.6265 1)" font-family="'Liberation Sans', sans-serif" font-weight="bold" font-size="10.17" fill="#000" stroke="#000" stroke-width="0.5" stroke-linejoin="round">80</text>
<line x1="288.80" y1="295.85" x2="288.80" y2="300.35" stroke="#000" stroke-width="1.2"/>
<line x1="322.10" y1="295.85" x2="322.10" y2="300.35" stroke="#000" stroke-width="1.2"/>
<line x1="355.30" y1="295.85" x2="355.30" y2="300.35" stroke="#000" stroke-width="1.2"/>
<line x1="388.50" y1="295.85" x2="388.50" y2="300.35" stroke="#000" stroke-width="1.2"/>
<text transform="translate(280.91 309.48) rotate(0.06) scale(0.6474 1)" font-family="'Liberation Sans', sans-serif" font-weight="bold" font-size="10.39" fill="#000" stroke="#000" stroke-width="0.65" stroke-linejoin="round">Helix</text>
<text transform="translate(313.71 309.48) rotate(0.06) scale(0.6410 1)" font-family="'Liberation Sans', sans-serif" font-weight="bold" font-size="10.39" fill="#000" stroke="#000" stroke-width="0.65" stroke-linejoin="round">Beta</text>
<text transform="translate(348.71 309.48) rotate(0.06) scale(0.6358 1)" font-family="'Liberation Sans', sans-serif" font-weight="bold" font-size="10.39" fill="#000" stroke="#000" stroke-width="0.65" stroke-linejoin="round">Turn</text>
<text transform="translate(377.70 309.48) rotate(0.06) scale(0.6135 1)" font-family="'Liberation Sans', sans-serif" font-weight="bold" font-size="10.39" fill="#000" stroke="#000" stroke-width="0.65" stroke-linejoin="round">Random</text>
<text transform="translate(257.50 268.70) rotate(-89.94) translate(0.25 0) scale(1.2299 1)" font-family="'DejaVu Sans', sans-serif" font-weight="bold" font-size="7.54" fill="#000" stroke="#000" stroke-width="0.4" stroke-linejoin="round">Percentage (%)</text>
<rect x="413.90" y="164.70" width="11.10" height="9.70" rx="1.2" fill="#404040"/>
<rect x="413.90" y="180.30" width="11.10" height="10.00" rx="1.2" fill="#000"/>
<text transform="translate(428.69 173.15) rotate(0.06) scale(0.6192 1)" font-family="'Liberation Sans', sans-serif" font-weight="bold" font-size="11.48" fill="#000" stroke="#000" stroke-width="0.3" stroke-linejoin="round">MnP +0.1% Lignin</text>
<text transform="translate(428.69 188.75) rotate(0.06) scale(0.6253 1)" font-family="'Liberation Sans', sans-serif" font-weight="bold" font-size="11.48" fill="#000" stroke="#000" stroke-width="0.3" stroke-linejoin="round">Pure MnP</text>
<path d="M520.30 295.85V243.60Q520.30 242.70 521.20 242.70H532.10Q533.00 242.70 533.00 243.60V295.85Z" fill="#000"/>
<path d="M532.10 295.85V228.20Q532.10 227.30 533.00 227.30H543.10Q544.00 227.30 544.00 228.20V295.85Z" fill="#404040"/>
<path d="M588.20 295.85V184.20Q588.20 183.30 589.10 183.30H599.50Q600.40 183.30 600.40 184.20V295.85Z" fill="#000"/>
<path d="M599.50 295.85V199.90Q599.50 199.00 600.40 199.00H610.40Q611.30 199.00 611.30 199.90V295.85Z" fill="#404040"/>
<line x1="515.00" y1="163.30" x2="515.00" y2="296.75" stroke="#000" stroke-width="1.45"/>
<line x1="514.30" y1="295.85" x2="650.60" y2="295.85" stroke="#000" stroke-width="1.8"/>
<line x1="512.30" y1="295.85" x2="515.00" y2="295.85" stroke="#000" stroke-width="1.2"/>
<text transform="translate(507.93 299.45) rotate(0.06) scale(0.5361 1)" font-family="'Liberation Sans', sans-serif" font-weight="bold" font-size="10.17" fill="#000" stroke="#000" stroke-width="0.5" stroke-linejoin="round">0</text>
<line x1="512.30" y1="262.84" x2="515.00" y2="262.84" stroke="#000" stroke-width="1.2"/>
<text transform="translate(504.26 266.44) rotate(0.06) scale(0.6265 1)" font-family="'Liberation Sans', sans-serif" font-weight="bold" font-size="10.17" fill="#000" stroke="#000" stroke-width="0.5" stroke-linejoin="round">20</text>
<line x1="512.30" y1="229.83" x2="515.00" y2="229.83" stroke="#000" stroke-width="1.2"/>
<text transform="translate(504.26 233.43) rotate(0.06) scale(0.6265 1)" font-family="'Liberation Sans', sans-serif" font-weight="bold" font-size="10.17" fill="#000" stroke="#000" stroke-width="0.5" stroke-linejoin="round">40</text>
<line x1="512.30" y1="196.81" x2="515.00" y2="196.81" stroke="#000" stroke-width="1.2"/>
<text transform="translate(504.26 200.41) rotate(0.06) scale(0.6265 1)" font-family="'Liberation Sans', sans-serif" font-weight="bold" font-size="10.17" fill="#000" stroke="#000" stroke-width="0.5" stroke-linejoin="round">60</text>
<line x1="512.30" y1="163.80" x2="515.00" y2="163.80" stroke="#000" stroke-width="1.2"/>
<text transform="translate(504.26 167.40) rotate(0.06) scale(0.6265 1)" font-family="'Liberation Sans', sans-serif" font-weight="bold" font-size="10.17" fill="#000" stroke="#000" stroke-width="0.5" stroke-linejoin="round">80</text>
<line x1="532.30" y1="295.85" x2="532.30" y2="300.35" stroke="#000" stroke-width="1.2"/>
<line x1="566.00" y1="295.85" x2="566.00" y2="300.35" stroke="#000" stroke-width="1.2"/>
<line x1="599.60" y1="295.85" x2="599.60" y2="300.35" stroke="#000" stroke-width="1.2"/>
<line x1="633.50" y1="295.85" x2="633.50" y2="300.35" stroke="#000" stroke-width="1.2"/>
<text transform="translate(524.11 309.48) rotate(0.06) scale(0.6552 1)" font-family="'Liberation Sans', sans-serif" font-weight="bold" font-size="10.39" fill="#000" stroke="#000" stroke-width="0.65" stroke-linejoin="round">Helix</text>
<text transform="translate(557.71 309.48) rotate(0.06) scale(0.6367 1)" font-family="'Liberation Sans', sans-serif" font-weight="bold" font-size="10.39" fill="#000" stroke="#000" stroke-width="0.65" stroke-linejoin="round">Beta</text>
<text transform="translate(593.01 309.48) rotate(0.06) scale(0.6445 1)" font-family="'Liberation Sans', sans-serif" font-weight="bold" font-size="10.39" fill="#000" stroke="#000" stroke-width="0.65" stroke-linejoin="round">Turn</text>
<text transform="translate(622.40 309.48) rotate(0.06) scale(0.6277 1)" font-family="'Liberation Sans', sans-serif" font-weight="bold" font-size="10.39" fill="#000" stroke="#000" stroke-width="0.65" stroke-linejoin="round">Random</text>
<text transform="translate(500.00 270.70) rotate(-89.94) translate(0.24 0) scale(1.2223 1)" font-family="'DejaVu Sans', sans-serif" font-weight="bold" font-size="7.54" fill="#000" stroke="#000" stroke-width="0.4" stroke-linejoin="round">Percentage (%)</text>
<rect x="642.20" y="167.70" width="10.80" height="9.50" rx="1.2" fill="#404040"/>
<rect x="642.20" y="183.10" width="10.80" height="9.60" rx="1.2" fill="#000"/>
<text transform="translate(657.89 176.15) rotate(0.06) scale(0.6159 1)" font-family="'Liberation Sans', sans-serif" font-weight="bold" font-size="11.48" fill="#000" stroke="#000" stroke-width="0.3" stroke-linejoin="round">Laccase +0.1% Lignin</text>
<text transform="translate(657.89 191.45) rotate(0.06) scale(0.6133 1)" font-family="'Liberation Sans', sans-serif" font-weight="bold" font-size="11.48" fill="#000" stroke="#000" stroke-width="0.3" stroke-linejoin="round">Pure Laccase</text>
</svg>
</body>
</html>
